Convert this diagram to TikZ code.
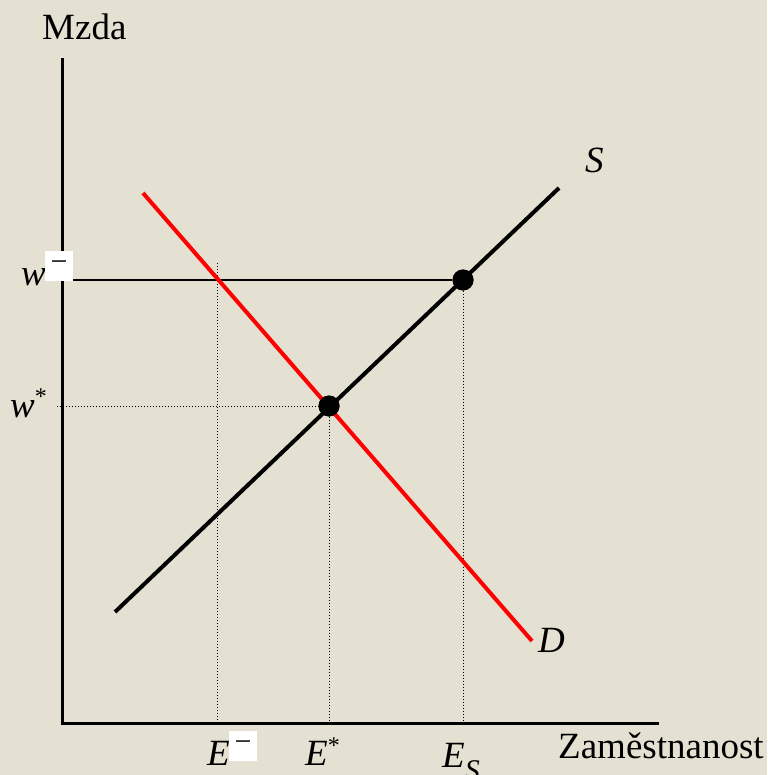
\documentclass[tikz,border=0pt]{standalone}
\usepackage{fontspec}
\setmainfont{Liberation Serif}
\definecolor{pozadi}{RGB}{228,225,211}
\newcommand{\hvezda}[1]{\raisebox{#1}{\fontsize{24}{24}\selectfont *}}
\begin{document}
\begin{tikzpicture}[x=1pt, y=-1pt, font=\fontsize{37}{44}\selectfont]
        % Definice stylů
        \tikzstyle{popisek} = [inner sep=0pt, anchor=base west]
        \tikzstyle{osa} = [line width=3pt, black]
        \tikzstyle{krivkaS} = [line width=4pt, black]
        \tikzstyle{krivkaD} = [line width=4pt, red]
        \tikzstyle{tecky} = [line width=1pt, dotted]
        \tikzstyle{tenka} = [line width=1.5pt, black]
        \tikzstyle{bod} = [circle, fill=black, minimum size=21pt, inner sep=0pt]
        \tikzstyle{minusbox} = [fill=white, minimum width=28pt, minimum height=30pt, inner sep=0pt, font=\fontsize{30}{30}\selectfont]

        % Pozadí
        \useasboundingbox (0,0) rectangle (767,775);
        \fill[pozadi] (0,0) rectangle (767,775);

        % Body os a křivek
        \coordinate (pocatek) at (62,723);
        \coordinate (osaYkonec) at (62,58);
        \coordinate (osaXkonec) at (659,723);
        \coordinate (S1) at (115,612);
        \coordinate (S2) at (559,188);
        \coordinate (D1) at (143,193);
        \coordinate (D2) at (532,641);
        \coordinate (wMinusZac) at (62,280);
        \coordinate (wHvezdaZac) at (57,406);
        \coordinate (eMinusHore) at (217,263);

        % Rovnováha a přebytek
        \node[bod] (rovnovaha) at (329,406) {};
        \node[bod] (prebytek) at (463,280) {};

        % Pomocné čáry
        \draw[tecky] (wHvezdaZac) -- (rovnovaha);
        \draw[tecky] (rovnovaha) -- (rovnovaha |- pocatek);
        \draw[tecky] (prebytek) -- (prebytek |- pocatek);
        \draw[tecky] (eMinusHore) -- (eMinusHore |- pocatek);
        \draw[tenka] (wMinusZac) -- (prebytek);

        % Osy
        \draw[osa] (osaYkonec) -- (pocatek) -- (osaXkonec);

        % Křivky
        \draw[krivkaD] (D1) -- (D2);
        \draw[krivkaS] (S1) -- (S2);
        \node[bod] at (rovnovaha) {};
        \node[bod] at (prebytek) {};

        % Popisky
        \node[popisek] (mzda) at (42,40) {Mzda};
        \node[popisek] (zamestnanost) at (558,758) {Zaměstnanost};
        \node[popisek] (popisS) at (585,173) {\textit{S}};
        \node[popisek] (popisD) at (538,652) {\textit{D}};
        \node[popisek] (wMinus) at (21,285) {\textit{w}};
        \node[minusbox] (wMinusBox) at (59,266) {−\hspace{8pt}};
        \node[popisek] (wHvezda) at (10,417) {\textit{w}\hvezda{13pt}};
        \node[popisek] (eMinus) at (207,765) {\textit{E}};
        \node[minusbox] (eMinusBox) at (243,746) {−\hspace{8pt}};
        \node[popisek] (eHvezda) at (305,765) {\textit{E}\hvezda{12pt}};
        \node[popisek] (eS) at (442,767) {\textit{E}\raisebox{-13pt}{\fontsize{30}{30}\selectfont\textit{S}}};
\end{tikzpicture}
\end{document}
